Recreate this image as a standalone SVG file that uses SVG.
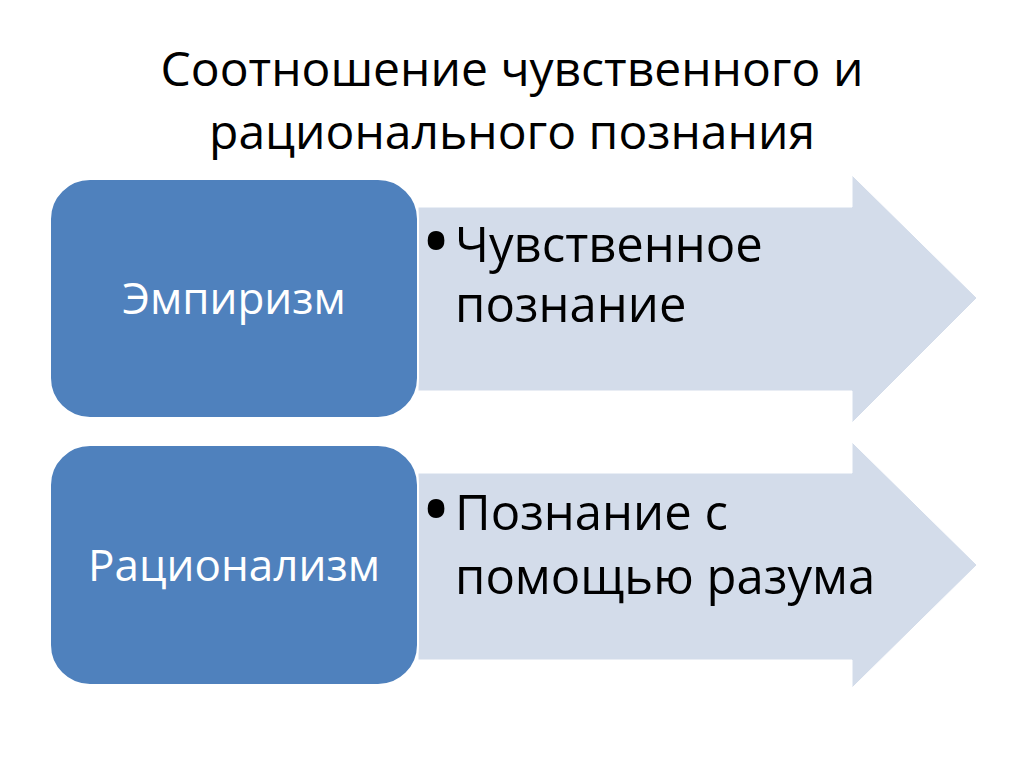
<svg xmlns="http://www.w3.org/2000/svg" width="1024" height="767" viewBox="0 0 1024 767">
<style>
.title{font-family:"Open Sans","Liberation Sans",sans-serif;font-size:48px;fill:#000;text-anchor:middle}
.box{fill:#4F81BD;stroke:#fff;stroke-width:2}
.boxt{font-family:"Open Sans","Liberation Sans",sans-serif;font-size:44px;fill:#fff;text-anchor:middle}
.arr{fill:#D3DCEA;stroke:#fff;stroke-width:1}
.bt{font-family:"Open Sans","Liberation Sans",sans-serif;font-size:49px;fill:#000}
.bul{font-family:"Open Sans","Liberation Sans",sans-serif;font-size:80px;fill:#000}
</style>
<rect width="1024" height="767" fill="#fff"/>
<g id="title">
<text class="title" x="512" y="86">Соотношение чувственного и</text>
<text class="title" x="512" y="149">рационального познания</text>
</g>
<g id="arrow1">
<path class="arr" d="M418,207 L852,207 L852,175 L977,298 L852,423 L852,391 L418,391 Z"/>
<text class="bul" x="421" y="270">•</text>
<text class="bt" x="455" y="262">Чувственное</text>
<text class="bt" x="455" y="322">познание</text>
</g>
<g id="arrow2">
<path class="arr" d="M418,473 L852,473 L852,442 L977,565 L852,688 L852,660 L418,660 Z"/>
<text class="bul" x="421" y="538">•</text>
<text class="bt" x="455" y="530">Познание с</text>
<text class="bt" x="455" y="594">помощью разума</text>
</g>
<g id="empiricism">
<rect class="box" x="50" y="179" width="368" height="239" rx="40"/>
<text class="boxt" x="234" y="314">Эмпиризм</text>
</g>
<g id="rationalism">
<rect class="box" x="50" y="445" width="368" height="240" rx="40"/>
<text class="boxt" x="234" y="581">Рационализм</text>
</g>
</svg>
